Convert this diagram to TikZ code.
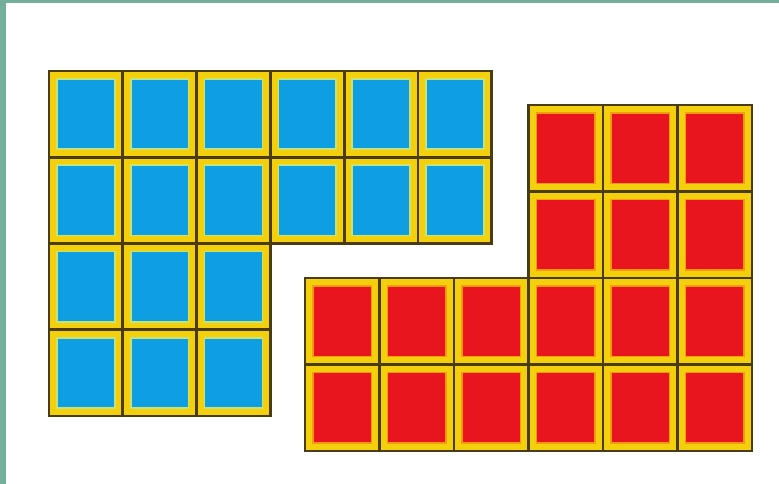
\documentclass[tikz,border=0pt]{standalone}
\definecolor{bordergreen}{HTML}{72B09A}
\definecolor{outline}{HTML}{4A3C0E}
\definecolor{ylw}{HTML}{F3CF0C}
\definecolor{cblue}{HTML}{0E9EE2}
\definecolor{cred}{HTML}{E8141E}
\definecolor{bluein}{HTML}{C6E27A}
\definecolor{redin}{HTML}{F59A12}
\tikzset{
  band/.style={fill=ylw},
  bluecore/.style={fill=cblue, draw=bluein, line width=1.6pt},
  redcore/.style={fill=cred, draw=redin, line width=1.6pt},
  gridline/.style={draw=outline, line width=2.8pt, line cap=rect}
}
\newcommand{\drawcell}[5]{%
  % #1 x, #2 y, #3 w, #4 h, #5 core style
  \fill[band] (#1,#2) rectangle ++(#3,#4);
  \path[#5] ({#1+8},{#2+8}) rectangle ({#1+#3-8},{#2+#4-8});
  \draw[gridline] (#1,#2) rectangle ++(#3,#4);
}
\begin{document}
\begin{tikzpicture}[x=1pt,y=-1pt]
\useasboundingbox (0,0) rectangle (779,484);
\fill[white] (0,0) rectangle (779,484);
\fill[bordergreen] (0,0) rectangle (779,3);
\fill[bordergreen] (0,0) rectangle (6,484);
% blue block: top two rows 6 wide, bottom two rows 3 wide
\foreach \r in {0,1} {
  \foreach \c in {0,...,5} {
    \drawcell{49+\c*73.8}{71+\r*86.25}{73.8}{86.25}{bluecore}
  }
}
\foreach \r in {2,3} {
  \foreach \c in {0,1,2} {
    \drawcell{49+\c*73.8}{71+\r*86.25}{73.8}{86.25}{bluecore}
  }
}
% red block: top two rows 3 wide (right), bottom two rows 6 wide
\foreach \r in {0,1} {
  \foreach \c in {3,4,5} {
    \drawcell{305+\c*74.5}{105+\r*86.5}{74.5}{86.5}{redcore}
  }
}
\foreach \r in {2,3} {
  \foreach \c in {0,...,5} {
    \drawcell{305+\c*74.5}{105+\r*86.5}{74.5}{86.5}{redcore}
  }
}
\end{tikzpicture}
\end{document}
